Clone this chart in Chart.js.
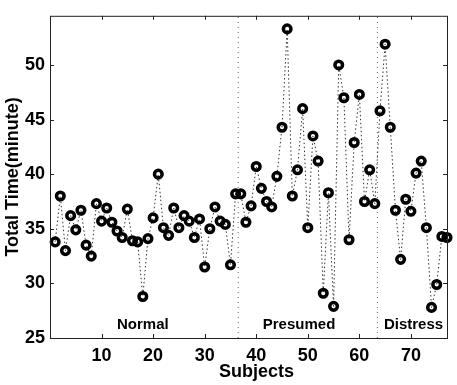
<!DOCTYPE html>
<html>
<head>
  <title>Total Time per Subject</title>
  <meta charset="utf-8" />
  <script src="https://cdn.jsdelivr.net/npm/chart.js@4.4.1/dist/chart.umd.min.js"></script>
  <style>
    html, body {
      margin: 0;
      padding: 0;
      background: #ffffff;
    }
    #wrap {
      width: 457px;
      height: 385px;
    }
  </style>
</head>
<body>
  <div id="wrap"><canvas id="timeChart"></canvas></div>
  <script>
    // total time (minutes) for subjects 1..77
    var totalTime = [
      33.8, 38.0, 33.0, 36.2, 34.9, 36.7, 33.5, 32.5, 37.3, 35.7,
      36.9, 35.6, 34.8, 34.2, 36.8, 33.9, 33.8, 28.8, 34.1, 36.0,
      40.0, 35.1, 34.4, 36.9, 35.1, 36.2, 35.7, 34.2, 35.9, 31.5,
      35.0, 37.0, 35.7, 35.4, 31.7, 38.2, 38.2, 35.6, 37.1, 40.7,
      38.7, 37.5, 37.0, 39.8, 44.3, 53.3, 38.0, 40.4, 46.0, 35.1,
      43.5, 41.2, 29.1, 38.3, 27.9, 50.0, 47.0, 34.0, 42.9, 47.3,
      37.5, 40.4, 37.3, 45.8, 51.9, 44.3, 36.7, 32.2, 37.7, 36.6,
      40.1, 41.2, 35.1, 27.8, 29.9, 34.3, 34.2
    ];
    var groupNames = ['Normal', 'Presumed', 'Distress'];
    var groupLabelX = [18, 48.3, 70.5];
    var groupBreaks = [36.5, 63.5];
    var xTicks = [10, 20, 30, 40, 50, 60, 70];
    var yTicks = [25, 30, 35, 40, 45, 50];
    var xRange = [0, 77];
    var yRange = [25, 54.5];

    Chart.defaults.font.family = "'Liberation Sans', Arial, sans-serif";
    Chart.defaults.font.weight = 'bold';
    Chart.defaults.color = '#000';

    var points = totalTime.map(function(v, i) { return { x: i + 1, y: v }; });

    var datasets = [{
      data: points,
      showLine: true,
      borderColor: '#333',
      borderWidth: 1,
      borderDash: [1.5, 2.5],
      pointStyle: 'circle',
      pointRadius: 3.8,
      pointBorderWidth: 3.5,
      pointBorderColor: '#000',
      pointBackgroundColor: 'rgba(0,0,0,0)',
      clip: false,
      order: 0
    }];
    groupBreaks.forEach(function(b) {
      datasets.push({
        data: [{ x: b, y: yRange[0] }, { x: b, y: yRange[1] }],
        showLine: true,
        borderColor: '#666',
        borderWidth: 1,
        borderDash: [1, 4],
        pointRadius: 0,
        order: 1
      });
    });

    // box, inward ticks, group labels, x title
    var frame = {
      id: 'frame',
      afterDraw: function(chart) {
        var c = chart.ctx, a = chart.chartArea;
        var xs = chart.scales.x, ys = chart.scales.y;
        c.save();
        c.strokeStyle = '#222';
        c.lineWidth = 1;
        c.strokeRect(a.left + 0.5, a.top + 0.5, a.right - a.left, a.bottom - a.top);
        c.beginPath();
        xTicks.forEach(function(t) {
          var px = Math.round(xs.getPixelForValue(t)) + 0.5;
          c.moveTo(px, a.bottom); c.lineTo(px, a.bottom - 4);
          c.moveTo(px, a.top); c.lineTo(px, a.top + 4);
        });
        yTicks.forEach(function(t) {
          var py = Math.round(ys.getPixelForValue(t)) + 0.5;
          c.moveTo(a.left, py); c.lineTo(a.left + 4, py);
          c.moveTo(a.right, py); c.lineTo(a.right - 4, py);
        });
        c.stroke();

        c.fillStyle = '#000';
        c.textAlign = 'center';
        c.textBaseline = 'middle';
        c.font = "bold 15px 'Liberation Sans', Arial, sans-serif";
        groupNames.forEach(function(name, i) {
          c.fillText(name, xs.getPixelForValue(groupLabelX[i]), ys.getPixelForValue(26.22));
        });

        c.font = "bold 18px 'Liberation Sans', Arial, sans-serif";
        c.fillText('Subjects', (a.left + a.right) / 2 + 8, 372);
        c.restore();
      }
    };

    new Chart(document.getElementById('timeChart'), {
      type: 'scatter',
      data: { datasets: datasets },
      options: {
        responsive: true,
        maintainAspectRatio: false,
        animation: false,
        layout: { padding: { top: 6, right: 10, left: 0, bottom: 0 } },
        plugins: {
          legend: { display: false },
          tooltip: { enabled: false }
        },
        scales: {
          x: {
            type: 'linear',
            min: xRange[0],
            max: xRange[1],
            grid: { display: false, drawTicks: false },
            border: { display: false },
            ticks: { padding: 7, font: { size: 18, weight: 'bold' } },
            afterBuildTicks: function(s) { s.ticks = xTicks.map(function(v) { return { value: v }; }); },
            afterFit: function(s) { s.height = 47; }
          },
          y: {
            min: yRange[0],
            max: yRange[1],
            grid: { display: false, drawTicks: false },
            border: { display: false },
            ticks: { padding: 5, font: { size: 18, weight: 'bold' } },
            afterBuildTicks: function(s) { s.ticks = yTicks.map(function(v) { return { value: v }; }); },
            afterFit: function(s) { s.width = 50; },
            title: {
              display: true,
              text: 'Total Time(minute)',
              font: { size: 18, weight: 'bold' },
              padding: { top: 2, bottom: 0 }
            }
          }
        }
      },
      plugins: [frame]
    });
  </script>
</body>
</html>
